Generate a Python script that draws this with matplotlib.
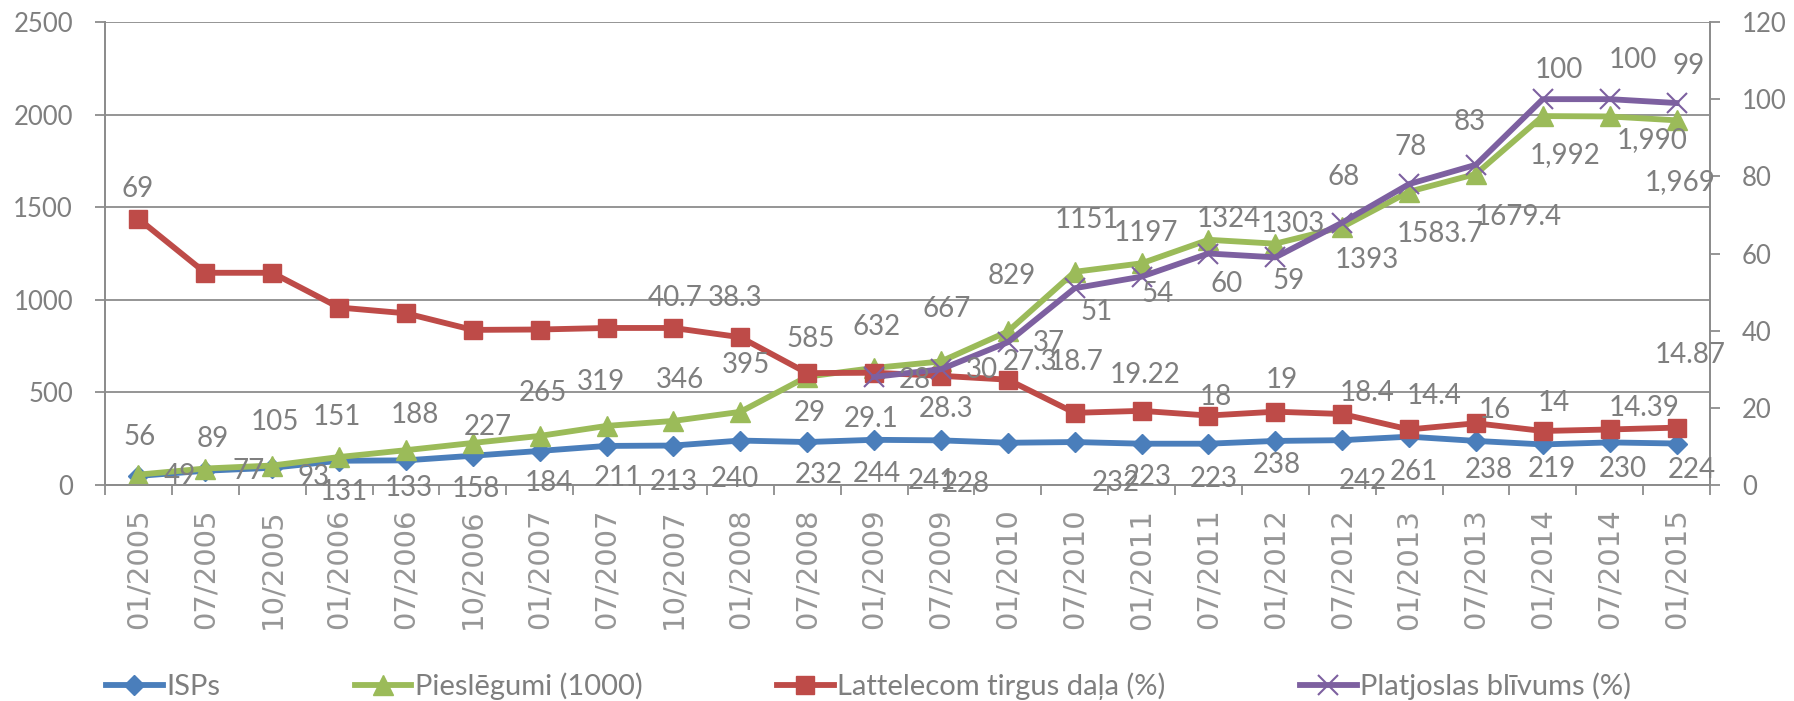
import matplotlib
matplotlib.use('Agg')
import matplotlib.pyplot as plt
import numpy as np

# data
periods = ['01/2005', '07/2005', '10/2005', '01/2006', '07/2006', '10/2006',
           '01/2007', '07/2007', '10/2007', '01/2008', '07/2008', '01/2009',
           '07/2009', '01/2010', '07/2010', '01/2011', '07/2011', '01/2012',
           '07/2012', '01/2013', '07/2013', '01/2014', '07/2014', '01/2015']

isps = [49, 77, 93, 131, 133, 158, 184, 211, 213, 240, 232, 244,
        241, 228, 232, 223, 223, 238, 242, 261, 238, 219, 230, 224]

pieslegumi = [56, 89, 105, 151, 188, 227, 265, 319, 346, 395, 585, 632,
              667, 829, 1151, 1197, 1324, 1303, 1393, 1583.7, 1679.4, 1992, 1990, 1969]
pieslegumi_labels = ['56', '89', '105', '151', '188', '227', '265', '319', '346', '395',
                     '585', '632', '667', '829', '1151', '1197', '1324', '1303', '1393',
                     '1583.7', '1679.4', '1,992', '1,990', '1,969']

lattelecom = [69, 55, 55, 46, 44.5, 40.2, 40.3, 40.7, 40.7, 38.3, 29, 29.1,
              28.3, 27.3, 18.7, 19.22, 18, 19, 18.4, 14.4, 16, 14, 14.39, 14.87]
lattelecom_labels = ['69', None, None, None, None, None, None, None, '40.7', '38.3',
                     '29', '29.1', '28.3', '27.3', '18.7', '19.22', '18', '19', '18.4',
                     '14.4', '16', '14', '14.39', '14.87']

platjoslas = [np.nan] * 11 + [28, 30, 37, 51, 54, 60, 59, 68, 78, 83, 100, 100, 99]

# label offsets in pixels (dx right, dy down) as placed in the reference
isps_off = [(41, 0), (43, 0), (41, 9), (5, 31), (3, 28), (3, 33), (9, 32), (11, 32),
            (0, 36), (-5, 38), (12, 33), (3, 34), (-9, 41), (-42, 41), (41, 41), (6, 33),
            (5, 35), (2, 24), (21, 41), (5, 35), (13, 29), (9, 25), (13, 27), (15, 26)]
pies_off = [(1, -38), (7, -30), (3, -44), (-2, -40), (9, -35), (15, -16), (3, -43), (-6, -44),
            (7, -41), (6, -47), (3, -38), (3, -41), (6, -52), (4, -55), (12, -52), (4, -30),
            (20, -21), (18, -20), (25, 33), (31, 42), (42, 43), (22, 39), (42, 24), (4, 62)]
latt_off = [(-1, -30)] + [(0, 0)] * 7 + [
            (2, -30), (-5, -39), (3, 40), (-3, 46), (5, 33), (22, -18), (1, -51), (4, -36),
            (7, -19), (7, -32), (25, -21), (25, -33), (19, -13), (11, -28), (34, -21), (14, -73)]
plat_off = [(0, 0)] * 11 + [
            (41, 3), (41, 1), (41, 1), (22, 24), (16, 17), (18, 31), (13, 24), (1, -46),
            (2, -37), (-6, -43), (16, -29), (23, -39), (12, -37)]

text_col = '#7f7f7f'
grid_col = '#8c8c8c'
plt.rcParams['font.family'] = ['Lato', 'DejaVu Sans']

fig = plt.figure(figsize=(17.94, 7.01), dpi=100)
ax = fig.add_axes([105 / 1794, 1 - 485 / 701, (1710 - 105) / 1794, (485 - 22) / 701])
ax2 = ax.twinx()

x = np.arange(len(periods))

l1, = ax.plot(x, isps, color='#4a7ebb', lw=4.2, marker='D', ms=10, zorder=3)
l2, = ax.plot(x, pieslegumi, color='#9bbb59', lw=4.2, marker='^', ms=15, zorder=3)
l3, = ax2.plot(x, lattelecom, color='#be4b48', lw=4.2, marker='s', ms=13.5, zorder=3)
l4, = ax2.plot(x, platjoslas, color='#7d60a0', lw=4.2, marker='x', ms=14, mew=1.5, zorder=4)

ax.set_xlim(-0.5, len(periods) - 0.5)
ax.set_ylim(0, 2500)
ax2.set_ylim(0, 120)
ax.set_yticks(np.arange(0, 2501, 500))
ax2.set_yticks(np.arange(0, 121, 20))

ax.set_xticks(np.arange(-0.5, len(periods), 1))
ax.set_xticklabels([])
ax.set_xticks(x, minor=True)
ax.set_xticklabels(periods, minor=True, rotation=90, family='DejaVu Sans', fontsize=21)
ax.tick_params(axis='x', which='major', length=7, width=1.3, color=grid_col, direction='out')
ax.tick_params(axis='x', which='minor', length=0, pad=17, labelcolor='#969696')
ax.tick_params(axis='y', length=7, width=1.3, color=grid_col, pad=16,
               labelsize=18.5, labelcolor=text_col)
ax2.tick_params(axis='y', length=7, width=1.3, color=grid_col, pad=16,
                labelsize=18.5, labelcolor=text_col)

ax.grid(axis='y', color=grid_col, lw=1.3)
ax.set_axisbelow(True)
for a in (ax, ax2):
    a.spines['top'].set_visible(False)
    for side in ('left', 'right', 'bottom'):
        a.spines[side].set_color(grid_col)
        a.spines[side].set_linewidth(1.3)


def put_labels(axis, values, labels, offsets):
    for i, (v, lab, off) in enumerate(zip(values, labels, offsets)):
        if lab is None or np.isnan(v):
            continue
        axis.annotate(lab, (i, v), xytext=(off[0], -off[1]), textcoords='offset pixels',
                      ha='center', va='center', fontsize=20, color=text_col,
                      annotation_clip=False, zorder=10)


# labels go on the top axes so they sit over every line
put_labels(ax2, [v * 120 / 2500 for v in isps], [str(v) for v in isps], isps_off)
put_labels(ax2, [v * 120 / 2500 for v in pieslegumi], pieslegumi_labels, pies_off)
put_labels(ax2, lattelecom, lattelecom_labels, latt_off)
put_labels(ax2, platjoslas, [None if np.isnan(v) else str(int(v)) for v in platjoslas], plat_off)

fig.legend([l1, l2, l3, l4],
           ['ISPs', 'Pieslēgumi (1000)', 'Lattelecom tirgus daļa (%)', 'Platjoslas blīvums (%)'],
           loc='center left', bbox_to_anchor=(106 / 1794, 1 - 686 / 701), ncol=4, frameon=False,
           fontsize=21, labelcolor=text_col, handlelength=1.95, handletextpad=0.12,
           columnspacing=4.6, borderpad=0, borderaxespad=0)

fig.savefig('out.png', dpi=100)
